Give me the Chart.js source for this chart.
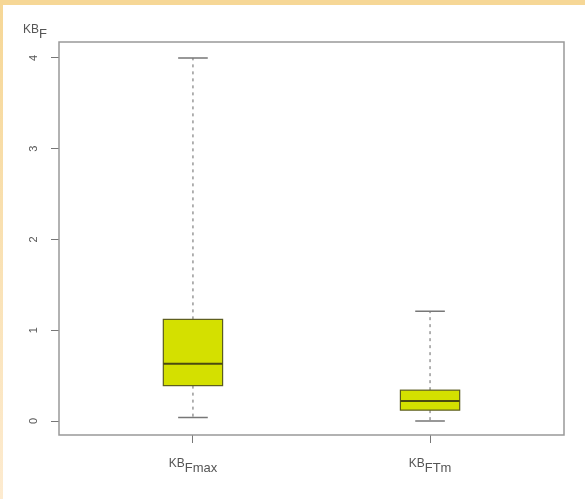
<!DOCTYPE html>
<html>
<head>
<meta charset="utf-8">
<script src="https://cdn.jsdelivr.net/npm/chart.js@4"></script>
<style>
  html, body { margin: 0; padding: 0; background: #fff; }
  #wrap { position: relative; width: 585px; height: 499px; }
  #topStrip { position: absolute; left: 0; top: 0; width: 585px; height: 5px; background: #f6d796; }
  #leftStrip { position: absolute; left: 0; top: 0; width: 3px; height: 499px;
    background: linear-gradient(#f6d796, #fdebd0); }
</style>
</head>
<body>
<div id="wrap">
  <canvas id="boxChart" width="585" height="499"></canvas>
  <div id="topStrip"></div>
  <div id="leftStrip"></div>
</div>
<script>
// boxplot data
const groups = ['Fmax', 'FTm'];
const groupPos = [1, 2];
const whiskerLow = [0.04, 0.00];
const lowerQuart = [0.39, 0.12];
const medians = [0.63, 0.22];
const upperQuart = [1.12, 0.34];
const whiskerHigh = [4.00, 1.21];
const yTicks = [0, 1, 2, 3, 4];

const BOX_WIDTH = 0.25;
const FONT = "'Liberation Sans', Arial, sans-serif";

// draws the box, whiskers and median for every group
const boxPlugin = {
  id: 'boxes',
  afterDatasetsDraw(chart) {
    const ctx = chart.ctx;
    const x = chart.scales.x;
    const y = chart.scales.y;
    ctx.save();
    groups.forEach((g, i) => {
      const cx = x.getPixelForValue(groupPos[i]);
      const left = x.getPixelForValue(groupPos[i] - BOX_WIDTH / 2);
      const right = x.getPixelForValue(groupPos[i] + BOX_WIDTH / 2);
      const capL = x.getPixelForValue(groupPos[i] - BOX_WIDTH / 4);
      const capR = x.getPixelForValue(groupPos[i] + BOX_WIDTH / 4);
      const yLo = y.getPixelForValue(whiskerLow[i]);
      const yQ1 = y.getPixelForValue(lowerQuart[i]);
      const yMed = y.getPixelForValue(medians[i]);
      const yQ3 = y.getPixelForValue(upperQuart[i]);
      const yHi = y.getPixelForValue(whiskerHigh[i]);

      // whiskers (dashed)
      ctx.strokeStyle = '#666';
      ctx.lineWidth = 1;
      ctx.setLineDash([3, 4]);
      ctx.beginPath();
      ctx.moveTo(cx, yQ3);
      ctx.lineTo(cx, yHi);
      ctx.moveTo(cx, yQ1);
      ctx.lineTo(cx, yLo);
      ctx.stroke();

      // caps
      ctx.setLineDash([]);
      ctx.strokeStyle = '#777';
      ctx.lineWidth = 1.5;
      ctx.beginPath();
      ctx.moveTo(capL, yHi);
      ctx.lineTo(capR, yHi);
      ctx.moveTo(capL, yLo);
      ctx.lineTo(capR, yLo);
      ctx.stroke();

      // box
      ctx.fillStyle = '#d4e000';
      ctx.fillRect(left, yQ3, right - left, yQ1 - yQ3);
      ctx.strokeStyle = '#5c5c1e';
      ctx.lineWidth = 1.2;
      ctx.strokeRect(left, yQ3, right - left, yQ1 - yQ3);

      // median
      ctx.strokeStyle = '#4a4a10';
      ctx.lineWidth = 2;
      ctx.beginPath();
      ctx.moveTo(left, yMed);
      ctx.lineTo(right, yMed);
      ctx.stroke();
    });
    ctx.restore();
  },
  afterDraw(chart) {
    const ctx = chart.ctx;
    const area = chart.chartArea;
    const x = chart.scales.x;
    ctx.save();
    // frame round the plot
    ctx.strokeStyle = '#999';
    ctx.lineWidth = 1.5;
    ctx.strokeRect(area.left, area.top, area.right - area.left, area.bottom - area.top);

    // subscripted labels
    const drawSub = (main, sub, px, py, align) => {
      ctx.font = '12px ' + FONT;
      const w1 = ctx.measureText(main).width;
      ctx.font = '13px ' + FONT;
      const w2 = ctx.measureText(sub).width;
      let start = align === 'center' ? px - (w1 + w2) / 2 : px;
      ctx.fillStyle = '#555';
      ctx.textAlign = 'left';
      ctx.textBaseline = 'alphabetic';
      ctx.font = '12px ' + FONT;
      ctx.fillText(main, start, py);
      ctx.font = '13px ' + FONT;
      ctx.fillText(sub, start + w1, py + 5);
    };
    drawSub('KB', 'F', 23, 33, 'left');
    groups.forEach((g, i) => {
      drawSub('KB', g, x.getPixelForValue(groupPos[i]), 467, 'center');
    });
    ctx.restore();
  }
};

new Chart(document.getElementById('boxChart'), {
  type: 'scatter',
  data: {
    datasets: [{
      data: groupPos.map((p, i) => ({ x: p, y: medians[i] })),
      pointRadius: 0,
      showLine: false,
    }],
  },
  options: {
    responsive: false,
    animation: false,
    layout: { padding: { top: 42, right: 21, left: 0, bottom: 0 } },
    plugins: {
      legend: { display: false },
      tooltip: { enabled: false },
    },
    scales: {
      x: {
        type: 'linear',
        min: 0.435,
        max: 2.565,
        afterFit: (s) => { s.height = 64; },
        afterBuildTicks: (s) => { s.ticks = groupPos.map((v) => ({ value: v })); },
        border: { display: false },
        grid: { drawOnChartArea: false, tickLength: 8, color: '#777' },
        ticks: { display: false },
      },
      y: {
        min: -0.154,
        max: 4.176,
        afterFit: (s) => { s.width = 59; },
        afterBuildTicks: (s) => { s.ticks = yTicks.map((v) => ({ value: v })); },
        border: { display: false },
        grid: { drawOnChartArea: false, tickLength: 8, color: '#777' },
        ticks: {
          minRotation: 90,
          maxRotation: 90,
          crossAlign: 'center',
          padding: 14,
          color: '#555',
          font: { size: 11, family: FONT },
        },
      },
    },
  },
  plugins: [boxPlugin],
});
</script>
</body>
</html>
